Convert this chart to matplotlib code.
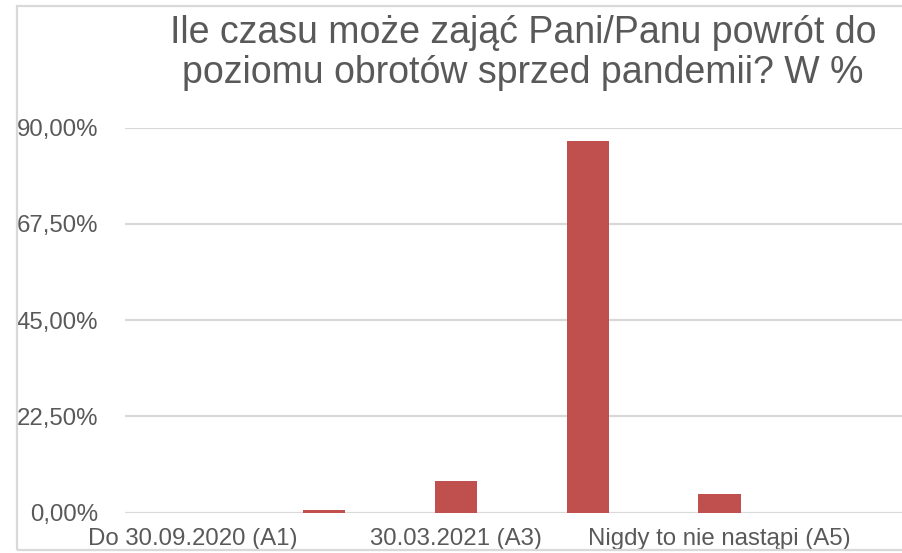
import matplotlib.pyplot as plt
from matplotlib.patches import Rectangle
from matplotlib.ticker import FuncFormatter

plt.rcParams['font.family'] = ['Liberation Sans', 'DejaVu Sans']

# dane
categories = ['Do 30.09.2020 (A1)', '(A2)', '30.03.2021 (A3)', '(A4)',
              'Nigdy to nie nastąpi (A5)', '(A6)']
values = [0.0, 0.7, 7.5, 86.8, 4.45, 0.0]
shown_labels = [0, 2, 4]   # Excel pokazuje co druga etykiete
yticks = [0, 22.5, 45, 67.5, 90]

title = 'Ile czasu może zająć Pani/Panu powrót do\npoziomu obrotów sprzed pandemii? W %'

text_col = '#595959'
bar_col = '#C0504D'
grid_col = '#D9D9D9'

W, H = 902, 553
fig = plt.figure(figsize=(W/100, H/100), dpi=100)

# ramka wykresu (prawa krawedz poza obrazem)
fig.patches.append(Rectangle((16.5/W, (H-550)/H), 1.2, (550-5.5)/H,
                             transform=fig.transFigure, fill=False,
                             edgecolor=grid_col, lw=1.6))

ax = fig.add_axes([125/W, (H-512.7)/H, 1-125/W, (512.7-127.5)/H])
x = list(range(len(categories)))
ax.bar(x, values, width=0.32, color=bar_col, zorder=3)

ax.set_ylim(0, 90)
ax.set_xlim(-0.512, 5.385)
ax.set_yticks(yticks)
ax.yaxis.set_major_formatter(FuncFormatter(lambda v, p: ('%.2f%%' % v).replace('.', ',')))
ax.set_xticks([x[i] for i in shown_labels])
ax.set_xticklabels([categories[i] for i in shown_labels])
ax.grid(axis='y', color=grid_col, lw=1.6, zorder=0)
ax.set_axisbelow(True)
for s in ax.spines.values():
    s.set_visible(False)
ax.tick_params(axis='both', length=0, labelsize=17.3, labelcolor=text_col)
ax.tick_params(axis='y', pad=19.5)
ax.tick_params(axis='x', pad=11)

fig.text(523/W, (H-83)/H, title, ha='center', va='baseline', fontsize=27,
         color=text_col, linespacing=1.15)

fig.savefig('out.png', dpi=100)
